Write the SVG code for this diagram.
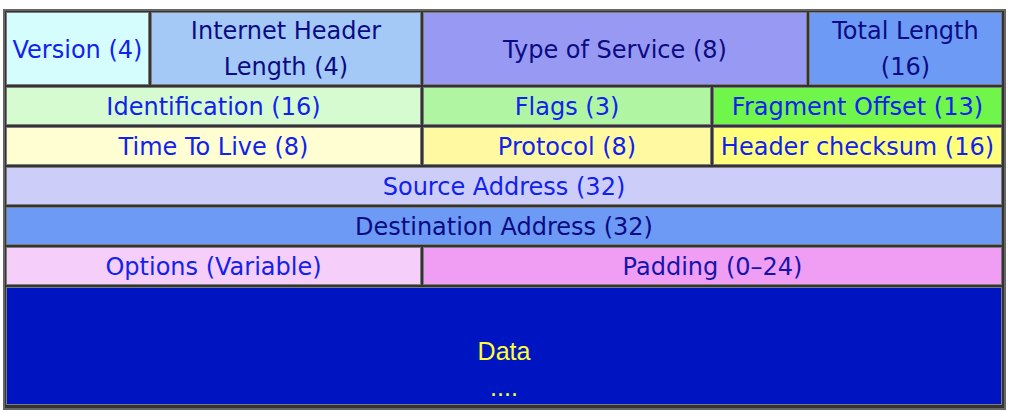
<svg xmlns="http://www.w3.org/2000/svg" width="1012" height="412" viewBox="0 0 1012 412">
<style>
.c{stroke:#7c7c7c;stroke-width:1}
text{font-family:"DejaVu Sans","Liberation Sans",sans-serif;font-size:24px;text-anchor:middle}
.b{fill:#1122ee}
.n{fill:#0b0b82}
.y{fill:#ffff33;font-family:"Liberation Sans Narrow","Liberation Sans",sans-serif;font-size:25px}
</style>
<rect x="4" y="10" width="1001" height="399" fill="#333" stroke="#666" stroke-width="2"/>
<g id="version"><rect class="c" x="6.5" y="12.5" width="142" height="72" fill="#d6fdfd"/><text class="b" x="77.5" y="58">Version (4)</text></g>
<g id="ihl"><rect class="c" x="151.5" y="12.5" width="269" height="72" fill="#a4c9f7"/><text class="n" x="286" y="39">Internet Header</text><text class="n" x="286" y="75">Length (4)</text></g>
<g id="tos"><rect class="c" x="423.5" y="12.5" width="383" height="72" fill="#9899f3"/><text class="n" x="615" y="58">Type of Service (8)</text></g>
<g id="total-length"><rect class="c" x="809.5" y="12.5" width="192" height="72" fill="#6d9af5"/><text class="n" x="905.5" y="39">Total Length</text><text class="n" x="905.5" y="75">(16)</text></g>
<g id="identification"><rect class="c" x="6.5" y="87.5" width="414" height="37" fill="#d6fbd0"/><text class="b" x="213.5" y="115">Identification (16)</text></g>
<g id="flags"><rect class="c" x="423.5" y="87.5" width="287" height="37" fill="#b0f6a2"/><text class="b" x="567" y="115">Flags (3)</text></g>
<g id="fragment-offset"><rect class="c" x="713.5" y="87.5" width="288" height="37" fill="#70f54a"/><text class="b" x="857.5" y="115">Fragment Offset (13)</text></g>
<g id="ttl"><rect class="c" x="6.5" y="127.5" width="414" height="37" fill="#fffdd2"/><text class="b" x="213.5" y="155">Time To Live (8)</text></g>
<g id="protocol"><rect class="c" x="423.5" y="127.5" width="287" height="37" fill="#fffaa2"/><text class="b" x="567" y="155">Protocol (8)</text></g>
<g id="header-checksum"><rect class="c" x="713.5" y="127.5" width="288" height="37" fill="#ffff7c"/><text class="b" x="857.5" y="155">Header checksum (16)</text></g>
<g id="source"><rect class="c" x="6.5" y="167.5" width="995" height="37" fill="#cccdf8"/><text class="b" x="504" y="195">Source Address (32)</text></g>
<g id="destination"><rect class="c" x="6.5" y="207.5" width="995" height="37" fill="#6d9af5"/><text class="n" x="504" y="235">Destination Address (32)</text></g>
<g id="options"><rect class="c" x="6.5" y="247.5" width="414" height="37" fill="#f6cefa"/><text class="b" x="213.5" y="275">Options (Variable)</text></g>
<g id="padding"><rect class="c" x="423.5" y="247.5" width="578" height="37" fill="#ef9ef4"/><text class="n" x="712.5" y="275" style="fill:#1515a8">Padding (0–24)</text></g>
<g id="data"><rect class="c" x="6.5" y="287.5" width="995" height="117" fill="#0015c2"/><text class="y" x="504" y="360">Data</text><text class="y" x="504" y="396">....</text></g>
<g id="connectors"></g>
</svg>
